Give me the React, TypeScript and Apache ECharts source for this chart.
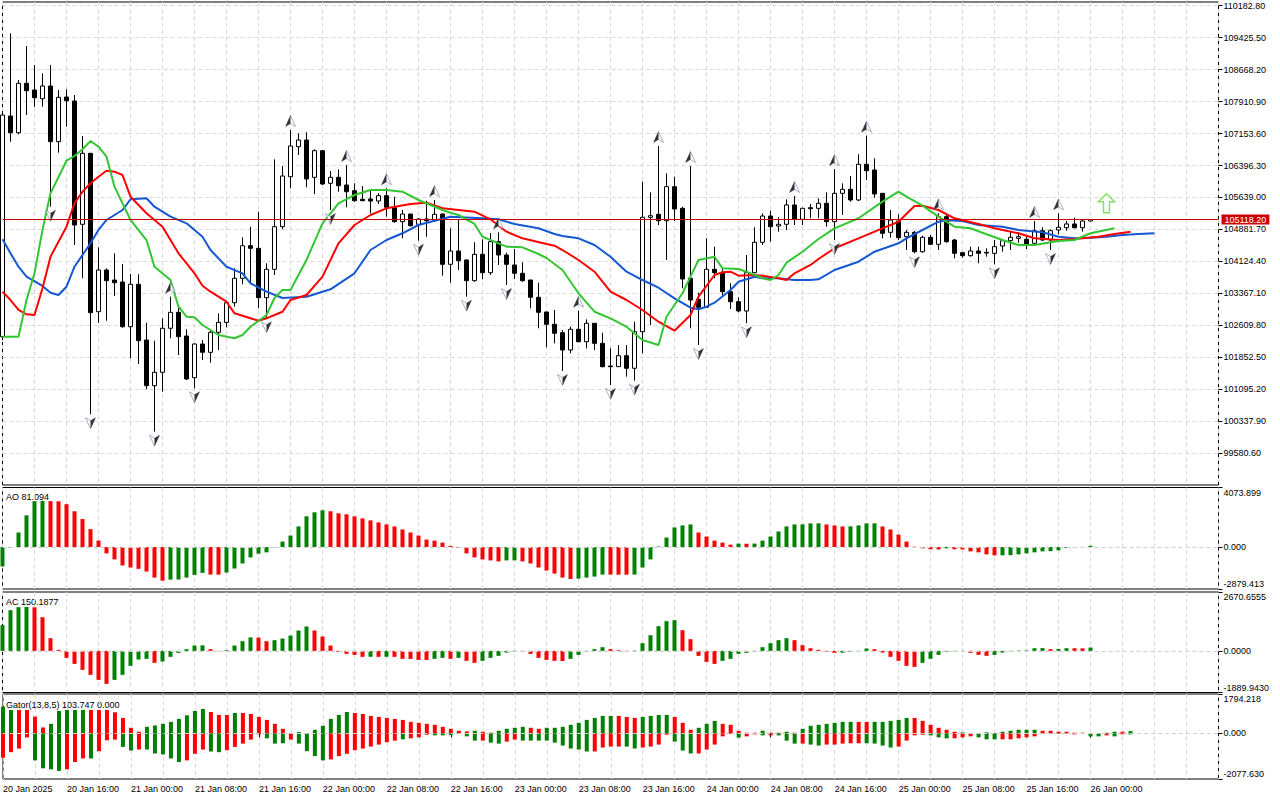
import React, { useEffect, useRef } from "react";
import * as echarts from "echarts";

const FONT = '"Liberation Sans", Arial, sans-serif';
const GREEN = "#008000";
const RED = "#ff0000";
const GRID_LINE = "#d9d9d9";

// ---------- time axis ----------
const xTickLabels = [
  "20 Jan 2025", "20 Jan 16:00", "21 Jan 00:00", "21 Jan 08:00", "21 Jan 16:00", "22 Jan 00:00",
  "22 Jan 08:00", "22 Jan 16:00", "23 Jan 00:00", "23 Jan 08:00", "23 Jan 16:00", "24 Jan 00:00",
  "24 Jan 08:00", "24 Jan 16:00", "25 Jan 00:00", "25 Jan 08:00", "25 Jan 16:00", "26 Jan 00:00",
];
const BAR_COUNT = 153; // hourly slots incl. the shifted Alligator / empty right margin

// ---------- BTCUSD H1 candles ----------
const opens = [
  102345, 107568, 107172, 108342, 108183, 107977, 108278, 106960, 108017, 107923,
  105005, 106685, 102936, 103923, 103686, 103639, 102581, 103585, 102267, 101185,
  101502, 102544, 102922, 102361, 101374, 102172, 101975, 102449, 102685, 103149,
  103727, 104498, 104437, 103268, 103940, 104948, 106131, 106841, 106999, 106117,
  106747, 105975, 106117, 105935, 105800, 105596, 105604, 105556, 105682, 105398,
  105066, 105248, 105005, 105130, 105090, 105248, 104058, 104373, 104160, 103670,
  104295, 103859, 104593, 104278, 104042, 103845, 103686, 103277, 102929, 102638,
  102439, 102030, 102520, 102226, 102662, 102188, 101651, 101635, 101895, 101597,
  102463, 105170, 105241, 105090, 105895, 105383, 103727, 103230, 103040, 103940,
  103859, 103410, 103173, 102953, 103859, 104579, 105201, 104964, 105005, 105462,
  105123, 105398, 105383, 105502, 105066, 105738, 105833, 105580, 106425, 106290,
  105738, 104815, 105083, 104711, 104815, 104356, 104697, 104531, 105185, 104633,
  104333, 104262, 104373, 104342, 104318, 104491, 104617, 104673, 104650, 104555,
  104853, 104633, 104870, 104924, 105012, 104924, 105083,
];
const highs = [
  107662, 109525, 108420, 109224, 108775, 108578, 108775, 108183, 108200, 108065,
  107094, 106690, 104460, 103963, 104318, 104065, 103829, 103821, 102676, 102250,
  102780, 103291, 103055, 102520, 102188, 102267, 102480, 102898, 103155, 103963,
  104697, 104948, 105303, 104082, 106543, 106384, 107236, 107158, 107182, 106780,
  106763, 106266, 106306, 106408, 105975, 105911, 105800, 105738, 105857, 105658,
  105343, 105250, 105147, 105560, 105580, 105265, 104910, 105123, 104176, 104579,
  104650, 104800, 104815, 104333, 104420, 104105, 103690, 103623, 102936, 102977,
  102503, 102581, 102960, 102756, 102665, 102439, 102070, 102148, 102148, 102700,
  106013, 105762, 106858, 106212, 106131, 105421, 106384, 103386, 104673, 104475,
  103945, 103608, 103277, 104278, 104934, 105265, 105327, 105170, 105596, 105675,
  105398, 105485, 105620, 105762, 106313, 105975, 106148, 106661, 107102, 106567,
  105740, 105343, 105241, 104870, 104846, 104735, 104752, 105265, 105241, 104657,
  104356, 104475, 104475, 104437, 104633, 104633, 104815, 104815, 104752, 105083,
  104934, 104886, 105265, 105083, 105161, 105130, 105125,
];
const lows = [
  102267, 106960, 107135, 107591, 107788, 107788, 105421, 106699, 107314, 104515,
  103727, 100508, 102676, 102723, 103308, 102558, 101833, 101699, 101100, 100096,
  101043, 102307, 101912, 101320, 101123, 101793, 101729, 102030, 102567, 103055,
  103585, 103608, 103017, 102780, 103805, 104886, 105857, 106645, 105880, 105722,
  105935, 105343, 105776, 105407, 105540, 105560, 105265, 105485, 105185, 105043,
  104673, 104948, 104617, 104711, 105066, 103788, 103623, 103923, 103291, 103646,
  103703, 103805, 104042, 103568, 103710, 103646, 103017, 102544, 102094, 102188,
  101533, 101952, 102212, 102070, 102030, 101620, 101202, 101630, 101398, 101303,
  101952, 102622, 104988, 104160, 105083, 103490, 102544, 102148, 103026, 103727,
  103308, 103000, 102922, 102662, 103845, 104515, 104593, 104830, 104870, 104988,
  104988, 105147, 105147, 104948, 104633, 105225, 105540, 105556, 106053, 105634,
  104673, 104688, 104633, 104396, 104318, 104333, 104515, 104396, 104569, 104200,
  104214, 104238, 104082, 104238, 104058, 104356, 104396, 104569, 104420, 104531,
  104609, 104396, 104768, 104853, 104910, 104830, 105080,
];
const closes = [
  107591, 107172, 108342, 108166, 108001, 108278, 106960, 108010, 107930, 104988,
  106685, 102913, 103923, 103670, 103623, 102581, 103585, 102250, 101185, 101502,
  102544, 102922, 102345, 101344, 102172, 101975, 102449, 102685, 103149, 103727,
  104498, 104437, 103268, 103940, 104948, 106148, 106858, 106999, 106077, 106747,
  105959, 106117, 105918, 105776, 105563, 105563, 105556, 105682, 105407, 105066,
  105248, 104972, 105130, 105090, 105241, 104058, 104373, 104143, 103670, 104295,
  103859, 104593, 104278, 104058, 103845, 103670, 103277, 102922, 102638, 102425,
  102030, 102520, 102226, 102662, 102188, 101635, 101635, 101895, 101597, 102463,
  105170, 105208, 105090, 105895, 105367, 103710, 103213, 103040, 103940, 103859,
  103410, 103173, 102953, 103859, 104579, 105201, 104948, 105005, 105462, 105123,
  105383, 105374, 105502, 105066, 105738, 105833, 105580, 106425, 106273, 105722,
  104792, 105106, 104688, 104815, 104356, 104697, 104531, 105185, 104593, 104318,
  104262, 104373, 104318, 104325, 104475, 104617, 104697, 104711, 104538, 104853,
  104633, 104853, 104934, 105012, 104924, 105083, 105118.2,
];
const currentPrice = 105118.2;

// ---------- Alligator (bar index, price) ----------
const jawPoints: [number, number][] = [
  [0, 104650], [1, 104318], [2, 104001], [3, 103765], [5, 103545], [6, 103386], [7, 103332], [8, 103528],
  [9, 104001], [11, 104555], [12, 104870], [13, 105107], [15, 105343], [16, 105596], [18, 105620], [19, 105421],
  [21, 105185], [23, 105028], [25, 104711], [26, 104396], [28, 104001], [30, 103845], [31, 103608], [33, 103410],
  [35, 103260], [38, 103291], [41, 103466], [44, 103845], [46, 104396], [48, 104633], [50, 104792], [52, 104988],
  [54, 105090], [56, 105185], [60, 105147], [62, 105123], [64, 105012], [67, 104910], [69, 104775], [70, 104728],
  [72, 104673], [74, 104515], [76, 104238], [78, 103883], [80, 103686], [82, 103504], [84, 103253], [86, 103031],
  [87, 102993], [88, 103055], [89, 103149], [91, 103450], [92, 103646], [94, 103765], [95, 103727], [97, 103727],
  [99, 103686], [101, 103686], [102, 103703], [104, 103923], [107, 104120], [109, 104356], [112, 104555], [113, 104673],
  [115, 104870], [117, 105066], [118, 105099], [120, 105083], [122, 104988], [125, 104948], [127, 104870], [130, 104815],
  [132, 104711], [134, 104673], [136, 104688], [138, 104711], [140, 104752], [142, 104775], [144, 104792],
];
const teethPoints: [number, number][] = [
  [0, 103410], [1, 103213], [2, 102977], [3, 102875], [4, 102858], [5, 103490], [6, 104238], [8, 104948],
  [9, 105502], [10, 105776], [11, 105975], [12, 106131], [13, 106273], [14, 106250], [15, 106171], [16, 105658],
  [18, 105265], [20, 104948], [21, 104633], [22, 104318], [24, 103845], [25, 103552], [26, 103410], [28, 103173],
  [29, 102898], [31, 102780], [32, 102723], [33, 102780], [34, 102858], [35, 102936], [36, 103213], [38, 103332],
  [40, 103765], [42, 104555], [44, 104988], [46, 105225], [48, 105383], [51, 105485], [53, 105516], [55, 105383],
  [59, 105303], [61, 105123], [63, 104830], [65, 104673], [68, 104538], [69, 104498], [70, 104396], [72, 104160],
  [74, 103883], [76, 103410], [78, 103213], [80, 102977], [82, 102700], [84, 102487], [86, 102858], [87, 103291],
  [89, 103805], [90, 103869], [91, 103883], [92, 103788], [94, 103805], [95, 103788], [97, 103727], [98, 103686],
  [99, 103845], [101, 104042], [102, 104183], [104, 104437], [107, 104673], [109, 104830], [112, 105066], [114, 105438],
  [115, 105445], [117, 105343], [119, 105147], [122, 105012], [124, 104910], [127, 104792], [129, 104673], [132, 104633],
  [134, 104657], [137, 104711], [139, 104775], [141, 104830],
];
const lipsPoints: [number, number][] = [
  [0, 102345], [2, 102345], [3, 103213], [4, 103845], [5, 104870], [6, 105738], [8, 106510], [9, 106621],
  [10, 106780], [11, 106976], [12, 106841], [13, 106604], [14, 105895], [16, 105107], [18, 104633], [19, 104001],
  [21, 103686], [22, 103055], [23, 102818], [24, 102804], [25, 102622], [27, 102385], [29, 102307], [30, 102385],
  [31, 102581], [33, 102858], [34, 103260], [35, 103450], [36, 103450], [38, 104160], [40, 105028], [42, 105502],
  [44, 105698], [46, 105817], [48, 105817], [50, 105776], [52, 105580], [55, 105343], [56, 105279], [57, 105225],
  [59, 105012], [60, 104711], [63, 104475], [65, 104460], [67, 104302], [68, 104207], [69, 104065], [70, 103923],
  [72, 103372], [74, 102936], [76, 102780], [78, 102581], [80, 102267], [82, 102148], [83, 102818], [85, 103372],
  [86, 103765], [87, 104160], [89, 104238], [90, 103963], [92, 103947], [93, 103883], [95, 103727], [96, 103686],
  [97, 103805], [98, 104096], [100, 104356], [102, 104657], [104, 104910], [107, 105147], [110, 105540], [112, 105776],
  [113, 105658], [115, 105445], [117, 105185], [119, 104948], [121, 104910], [123, 104768], [125, 104633], [127, 104515],
  [129, 104515], [132, 104609], [134, 104633], [136, 104792], [139, 104910],
];

// ---------- Fractals & signal ----------
const upFractals = [21, 36, 43, 48, 54, 62, 72, 82, 86, 99, 104, 108, 117, 129, 132];
const downFractals = [6, 11, 19, 24, 33, 41, 52, 58, 63, 70, 76, 79, 87, 93, 104, 114, 124, 131];
const signalBars = [138];
const signalValues = [105504];

// ---------- price axis ----------
const priceMin = 98835;
const priceMax = 110265.7;
const priceTicks = [
  99580.6, 100337.9, 101095.2, 101852.5, 102609.8, 103367.1, 104124.4, 104881.7,
  105639.0, 106396.3, 107153.6, 107910.9, 108668.2, 109425.5, 110182.8,
];

// ---------- Awesome Oscillator ----------
const aoValues = [
  -1337, -50, 992, 2168, 3136, 3150, 3140, 3130, 2929, 2444,
  1914, 1222, 438, -438, -853, -1268, -1407, -1499, -1683, -2098,
  -2306, -2237, -2230, -2098, -1914, -1776, -1891, -1895, -1753, -1476,
  -1130, -715, -461, -369, -20, 369, 784, 1407, 2098, 2375,
  2514, 2444, 2306, 2237, 2098, 1960, 1822, 1683, 1545, 1407,
  1199, 992, 784, 507, 438, 300, 69, -69, -438, -715,
  -853, -922, -992, -922, -915, -992, -1130, -1407, -1614, -1822,
  -2098, -2191, -2168, -2098, -2029, -1891, -1895, -1898, -1900, -1891,
  -1407, -853, 30, 646, 1338, 1476, 1545, 992, 715, 438,
  300, 161, 231, 220, 231, 438, 715, 1061, 1407, 1545,
  1550, 1614, 1620, 1545, 1476, 1407, 1410, 1476, 1614, 1620,
  1407, 1199, 853, 369, 20, -92, -161, -170, -92, -161,
  -170, -300, -369, -507, -576, -570, -560, -507, -438, -369,
  -300, -290, -231, -69, -23, -10, 81.094,
];
const aoColors = (
  "GGGGGGRRRR" + "RRRRRRRRRR" + "RGGGGGRRGG" + "GGGGGGGGGG" + "GRRRRRRRRR" +
  "RRRRRRRRRR" + "RRRGGRRRRR" + "RRGGGGRRRG" + "GGGGGGGRRR" + "RRGRGGGGGG" +
  "GGGRRRGGGG" + "RRRRRRRRGR" + "RRRRRGGGGG" + "GGGGGGG"
).split("");

// ---------- Accelerator Oscillator ----------
const acValues = [
  1165, 1846, 1982, 1990, 1975, 1528, 575, 45, -318, -590,
  -862, -1089, -1316, -1498, -1316, -1089, -681, -393, -363, -545,
  -484, -272, -91, 76, 242, 250, 76, -15, 30, 242,
  439, 610, 600, 439, 484, 560, 696, 923, 1105, 923,
  651, 242, -45, -136, -182, -272, -268, -272, -268, -272,
  -363, -365, -409, -412, -363, -318, -363, -318, -454, -545,
  -454, -318, -227, -76, -30, -35, -136, -318, -409, -454,
  -460, -363, -182, -30, 76, 166, 76, 30, -15, 15,
  348, 711, 1120, 1347, 1392, 938, 530, -227, -499, -590,
  -454, -363, -136, -91, -30, 166, 348, 484, 575, 484,
  257, 121, 45, -30, -91, -85, -45, -15, 106, 76,
  -76, -272, -454, -681, -727, -545, -363, -182, -30, -15,
  -10, -91, -182, -227, -182, -76, -15, 15, 20, 121,
  125, 76, 80, 121, 118, 115, 150.1877,
];
const acColors = (
  "GGGGRRRRRR" + "RRRRGGGGGR" + "GGGGGGRRGG" + "GGRRGGGGGR" + "RRRRRRGRGR" +
  "RRRRGGRGRR" + "GGGGGRRRRR" + "RGGGGGRRRG" + "GGGGGRRRRR" + "GGGGGGGGGR" +
  "RRRRRGGGGR" + "RRRRRGGGGG" + "GRRRGGGGGG" + "GRGGRRG"
).split("");

// ---------- Gator Oscillator ----------
const gatorUp = [
  1215, 1065, 1065, 1065, 765, 270, 435, 1020, 1065, 1065,
  1065, 1065, 1065, 1065, 960, 705, 255, 75, 300, 360,
  435, 525, 660, 825, 1020, 1110, 975, 840, 840, 930,
  930, 885, 750, 615, 435, 210, 0, 60, 15, 165,
  345, 660, 840, 975, 930, 885, 795, 750, 705, 660,
  615, 525, 480, 435, 390, 300, 210, 120, 90, 120,
  75, 30, 120, 210, 255, 300, 255, 210, 255, 255,
  300, 390, 480, 615, 705, 795, 795, 795, 750, 705,
  750, 795, 840, 840, 750, 480, 165, 255, 435, 570,
  435, 390, 120, 30, 30, 120, 30, 30, 75, 30,
  210, 345, 390, 435, 480, 525, 525, 525, 525, 525,
  525, 570, 615, 705, 705, 570, 390, 255, 165, 75,
  45, 5, 15, 45, 15, 75, 120, 165, 165, 165,
  120, 120, 75, 75, 30, 30, 0, 0, 30, 75,
  75, 103.747,
];
const gatorUpColors = (
  "GGRRRRGGGG" + "GRRRRRRRGG" + "GGGGGGRRRG" + "RRRRRRRGRG" + "GGGGRRRRRR" +
  "RRRRRRRRRG" + "RRGGGGRRGG" + "GGGGGGGRRR" + "GGGGRRRGGG" + "RRRRRGRRGR" +
  "GGGGGGGRRG" + "GGGGRRRRRR" + "GRGGRGGGGG" + "RRRRRRRRGG" + "RG"
).split("");
const gatorDown = [
  -1110, -855, -690, -180, -1230, -1590, -1635, -1710, -1635, -1305,
  -1140, -1140, -810, -315, -285, -615, -780, -735, -735, -915,
  -960, -1140, -1305, -1230, -930, -735, -825, -855, -765, -615,
  -465, -285, -45, -225, -465, -450, -285, -465, -810, -1035,
  -1230, -1185, -1035, -930, -765, -690, -600, -510, -405, -330,
  -270, -225, -180, -60, -90, -90, -75, -30, -135, -330,
  -330, -420, -465, -375, -285, -330, -330, -330, -330, -420,
  -555, -690, -735, -825, -825, -645, -600, -600, -600, -690,
  -645, -600, -510, -60, -375, -780, -915, -915, -735, -510,
  -135, -30, -195, -135, -45, -90, -90, -90, -330, -465,
  -465, -510, -555, -510, -510, -465, -450, -450, -450, -465,
  -555, -645, -600, -330, -90, -60, -90, -180, -225, -225,
  -180, -135, -180, -270, -270, -270, -270, -225, -180, -135,
  -15, -10, -10, -10, -45, -5, -135, -135, -90, -135,
  -45, -45,
];
const gatorDownColors = (
  "RRRRGGGGRR" + "RGRRRGGRGG" + "GGGRRRGGRR" + "RRRGGGRGGG" + "GRRRRRRRRR" +
  "GRRRGGGGGG" + "RGGRRGGGGG" + "GGGGRRRRGG" + "RRRRGGGRRR" + "RRGRRGRGGG" +
  "RGGRRRRRGG" + "GGRRRRGGGR" + "RRGGGRRRRR" + "RRRRRRGGRG" + "RG"
).split("");

const AO_RANGE = [-2879.413, 4073.899];
const AC_RANGE = [-1889.943, 2670.6555];
const GATOR_RANGE = [-2077.63, 1794.218];

const PANES = [
  { top: 2, height: 483 },
  { top: 487.5, height: 101.5 },
  { top: 592, height: 100.5 },
  { top: 694, height: 85 },
];
const GRID_LEFT = 2.5;
const GRID_RIGHT = 61.5;

function hourLabels(): string[] {
  const start = Date.UTC(2025, 0, 20, 8, 0, 0);
  const out: string[] = [];
  for (let i = 0; i < BAR_COUNT; i++) {
    const d = new Date(start + i * 3600 * 1000);
    out.push(d.toISOString().slice(0, 16).replace("T", " "));
  }
  return out;
}

function colored(vals: number[], cols: string[]) {
  return vals.map((v, i) => ({ value: v, itemStyle: { color: cols[i] === "G" ? GREEN : RED } }));
}

function subYAxis(gridIndex: number, range: number[], digits: number) {
  const [min, max] = range;
  const ticks = [min, 0, max];
  const base = { fontSize: 9, fontFamily: FONT, color: "#000" };
  return {
    gridIndex,
    type: "value",
    position: "right",
    min,
    max,
    axisLine: { show: false },
    axisTick: { show: true, length: 4, customValues: ticks, lineStyle: { color: "#000" } },
    axisLabel: {
      customValues: ticks,
      margin: 5,
      ...base,
      formatter: (v: number) => {
        const s = v.toFixed(digits);
        if (Math.abs(v - max) < 1e-6) return `{t|${s}}`;
        if (Math.abs(v - min) < 1e-6) return `{b|${s}}`;
        return s;
      },
      rich: {
        t: { ...base, padding: [10, 0, 0, 0] },
        b: { ...base, padding: [0, 0, 10, 0] },
      },
    },
    splitLine: { show: false },
  };
}

const zeroLine = {
  silent: true,
  symbol: ["none", "none"],
  label: { show: false },
  lineStyle: { color: "#cfcfcf", type: [4, 3], width: 1 },
  data: [{ yAxis: 0 }],
};

export default function App() {
  const ref = useRef<HTMLDivElement>(null);

  useEffect(() => {
    if (!ref.current) return;
    const chart = echarts.init(ref.current, undefined, { renderer: "svg" });
    const cats = hourLabels();
    const labelEvery = (i: number) => i % 8 === 0 && i / 8 < xTickLabels.length;

    const xAxes = PANES.map((_, g) => ({
      gridIndex: g,
      type: "category",
      data: cats,
      boundaryGap: false,
      axisLine: { show: false },
      axisTick: {
        show: g === 3,
        interval: labelEvery,
        length: 4,
        lineStyle: { color: "#000" },
      },
      axisLabel: {
        show: g === 3,
        interval: labelEvery,
        formatter: (_v: string, i: number) => xTickLabels[i / 8] ?? "",
        align: "left",
        margin: 5,
        fontSize: 9,
        fontFamily: FONT,
        color: "#000",
      },
      splitLine: {
        show: true,
        interval: (i: number) => i % 4 === 0,
        lineStyle: { color: GRID_LINE, type: [4, 3], width: 1 },
      },
    }));

    // fractal arrowheads: a light full head plus a dark half (two-tone like the terminal glyph)
    const upFull = "path://M5,0 L10,11 L5,8 L0,11 Z";
    const upHalf = "path://M5,0 L5,8 L0,11 Z";
    const downFull = "path://M0,0 L5,3 L10,0 L5,11 Z";
    const downHalf = "path://M5,3 L10,0 L5,11 Z";
    const signalSymbol = "path://M8,0 L16,8 L11,8 L11,19 L5,19 L5,8 L0,8 Z";

    const fractalSeries = (
      name: string,
      data: number[][],
      full: string,
      half: string,
      dy: number,
      halfDx: number
    ) => [
      {
        type: "scatter",
        name,
        xAxisIndex: 0,
        yAxisIndex: 0,
        data,
        symbol: full,
        symbolSize: [10, 11],
        symbolOffset: [0, dy],
        itemStyle: { color: "#ffffff", borderColor: "#7d86a6", borderWidth: 0.8 },
        z: 4,
      },
      {
        type: "scatter",
        name: name + " shade",
        xAxisIndex: 0,
        yAxisIndex: 0,
        data,
        symbol: half,
        symbolSize: [5, 11],
        symbolOffset: [halfDx, dy],
        itemStyle: { color: "#000000" },
        z: 5,
      },
    ];

    const option: any = {
      animation: false,
      backgroundColor: "#ffffff",
      grid: PANES.map((p) => ({
        left: GRID_LEFT,
        right: GRID_RIGHT,
        top: p.top,
        height: p.height,
        show: true,
        borderColor: "#000",
        borderWidth: 1,
        backgroundColor: "transparent",
        containLabel: false,
      })),
      xAxis: xAxes,
      yAxis: [
        {
          gridIndex: 0,
          type: "value",
          position: "right",
          min: priceMin,
          max: priceMax,
          axisLine: { show: false },
          axisTick: { show: true, length: 4, customValues: priceTicks, lineStyle: { color: "#000" } },
          axisLabel: {
            customValues: priceTicks,
            formatter: (v: number) => v.toFixed(2),
            margin: 5,
            fontSize: 9,
            fontFamily: FONT,
            color: "#000",
          },
          splitLine: { show: true, lineStyle: { color: GRID_LINE, type: [4, 3], width: 1 } },
        },
        subYAxis(1, AO_RANGE, 3),
        subYAxis(2, AC_RANGE, 4),
        subYAxis(3, GATOR_RANGE, 3),
      ],
      graphic: [
        {
          type: "text",
          x: 6,
          y: 497,
          style: { text: `AO ${aoValues[aoValues.length - 1].toFixed(3)}`, fill: "#000", fontSize: 9, fontFamily: FONT, verticalAlign: "middle" },
        },
        {
          type: "text",
          x: 6,
          y: 601.5,
          style: { text: `AC ${acValues[acValues.length - 1].toFixed(4)}`, fill: "#000", fontSize: 9, fontFamily: FONT, verticalAlign: "middle" },
        },
        {
          type: "text",
          x: 6,
          y: 704.5,
          style: {
            text: `Gator(13,8,5) ${gatorUp[gatorUp.length - 1].toFixed(3)} 0.000`,
            fill: "#000",
            fontSize: 9,
            fontFamily: FONT,
            verticalAlign: "middle",
          },
        },
      ],
      series: [
        {
          type: "candlestick",
          xAxisIndex: 0,
          yAxisIndex: 0,
          barWidth: 4,
          data: opens.map((o, i) => [o, closes[i], lows[i], highs[i]]),
          itemStyle: {
            color: "#ffffff",
            color0: "#000000",
            borderColor: "#000000",
            borderColor0: "#000000",
            borderWidth: 1,
          },
          markLine: {
            silent: true,
            symbol: ["none", "none"],
            lineStyle: { color: "#c80000", width: 1, type: "solid" },
            label: {
              show: true,
              position: "end",
              distance: 3,
              formatter: (p: any) => Number(p.value).toFixed(2),
              color: "#ffffff",
              backgroundColor: "#cc0000",
              padding: [1, 3, 0, 3],
              fontSize: 9,
              fontFamily: FONT,
            },
            data: [{ yAxis: currentPrice }],
          },
        },
        {
          type: "line",
          name: "Jaw",
          xAxisIndex: 0,
          yAxisIndex: 0,
          data: jawPoints,
          symbol: "none",
          lineStyle: { color: "#1458d4", width: 2 },
          z: 3,
        },
        {
          type: "line",
          name: "Teeth",
          xAxisIndex: 0,
          yAxisIndex: 0,
          data: teethPoints,
          symbol: "none",
          lineStyle: { color: "#ff0000", width: 2 },
          z: 3,
        },
        {
          type: "line",
          name: "Lips",
          xAxisIndex: 0,
          yAxisIndex: 0,
          data: lipsPoints,
          symbol: "none",
          lineStyle: { color: "#33c633", width: 2 },
          z: 3,
        },
        ...fractalSeries("Fractal up", upFractals.map((k) => [k, highs[k]]), upFull, upHalf, -9, -2.5),
        ...fractalSeries("Fractal down", downFractals.map((k) => [k, lows[k]]), downFull, downHalf, 9, 2.5),
        {
          type: "scatter",
          name: "Signal",
          xAxisIndex: 0,
          yAxisIndex: 0,
          data: signalBars.map((k, i) => [k, signalValues[i]]),
          symbol: signalSymbol,
          symbolSize: [16, 19],
          itemStyle: { color: "#ffffff", borderColor: "#66d93a", borderWidth: 1.5 },
          z: 4,
        },
        {
          type: "bar",
          name: "AO",
          xAxisIndex: 1,
          yAxisIndex: 1,
          barWidth: 4,
          data: colored(aoValues, aoColors),
          markLine: zeroLine,
        },
        {
          type: "bar",
          name: "AC",
          xAxisIndex: 2,
          yAxisIndex: 2,
          barWidth: 4,
          data: colored(acValues, acColors),
          markLine: zeroLine,
        },
        {
          type: "bar",
          name: "Gator up",
          xAxisIndex: 3,
          yAxisIndex: 3,
          barWidth: 4,
          barGap: "-100%",
          data: colored(gatorUp, gatorUpColors),
          markLine: zeroLine,
        },
        {
          type: "bar",
          name: "Gator down",
          xAxisIndex: 3,
          yAxisIndex: 3,
          barWidth: 4,
          barGap: "-100%",
          data: colored(gatorDown, gatorDownColors),
        },
      ],
    };

    chart.setOption(option);
    return () => chart.dispose();
  }, []);

  return (
    <div
      ref={ref}
      style={{ position: "fixed", left: 0, top: 0, width: 1280, height: 800, background: "#ffffff" }}
    />
  );
}
